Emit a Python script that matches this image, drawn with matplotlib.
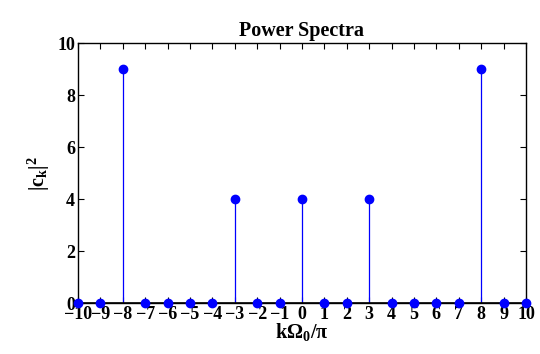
import numpy as np
import matplotlib.pyplot as plt

# harmonic index and power values
k = np.arange(-10, 11)
power = np.zeros(len(k))
peak_k = [-8, -3, 0, 3, 8]
peak_val = [9, 4, 4, 4, 9]
for kk, vv in zip(peak_k, peak_val):
    power[kk + 10] = vv

plt.rcParams['font.family'] = 'Liberation Serif'
plt.rcParams['font.weight'] = 'bold'
plt.rcParams['mathtext.fontset'] = 'custom'
plt.rcParams['mathtext.rm'] = 'Liberation Serif:bold'
plt.rcParams['mathtext.it'] = 'Liberation Serif:bold'
plt.rcParams['mathtext.bf'] = 'Liberation Serif:bold'
plt.rcParams['mathtext.default'] = 'rm'

fig = plt.figure(figsize=(5.4, 3.54), dpi=100)
ax = fig.add_axes([0.1444, 0.144, 0.8296, 0.7345])

markerline, stemlines, baseline = ax.stem(k, power, linefmt='b-', markerfmt='bo', basefmt='k-')
markerline.set_markersize(6)
markerline.set_clip_on(False)
markerline.set_zorder(4)
stemlines.set_linewidth(0.9)
baseline.set_linewidth(1.2)
baseline.set_xdata([-10, 10])

ax.set_xlim(-10, 10)
ax.set_ylim(0, 10)
ax.set_xticks(k)
ax.set_yticks([0, 2, 4, 6, 8, 10])
ax.tick_params(direction='in', top=True, right=True, labelsize=13, length=4, pad=2)
for s in ax.spines.values():
    s.set_linewidth(1.0)

ax.set_title('Power Spectra', fontsize=14.5, fontweight='bold', pad=5)
ax.set_xlabel(r'$\mathrm{k\Omega_0/\pi}$', fontsize=14.5, labelpad=-1)
ax.set_ylabel(r'$\mathrm{|c_k|^2}$', fontsize=14.5, labelpad=4)

fig.savefig('out.png', dpi=100)
